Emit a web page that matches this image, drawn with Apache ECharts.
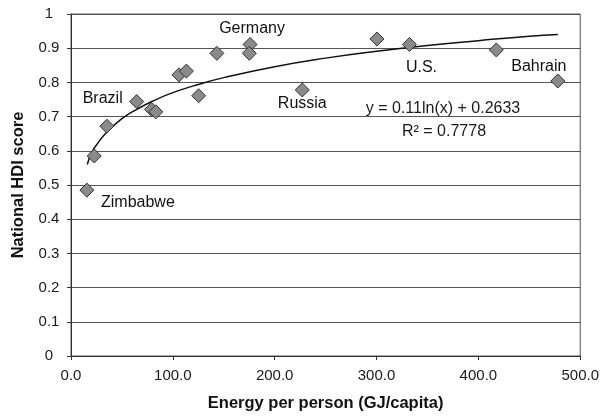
<!DOCTYPE html>
<html>
<head>
<meta charset="utf-8">
<script src="https://cdn.jsdelivr.net/npm/echarts@6/dist/echarts.min.js"></script>
<style>
html,body{margin:0;padding:0;background:#fff;}
#chart{width:602px;height:417px;}
</style>
</head>
<body>
<div id="chart"></div>
<script>
// Data
var energy = [15.6, 22.8, 35.2, 64.5, 79.1, 83.3, 106, 113.3, 125.3, 143.2, 175.8, 175.1, 227.1, 300.4, 332.3, 417.6, 478];
var hdi    = [0.485, 0.585, 0.672, 0.744, 0.721, 0.714, 0.822, 0.833, 0.761, 0.885, 0.911, 0.885, 0.778, 0.927, 0.911, 0.895, 0.804];
var countryNames = ['Zimbabwe', '', '', 'Brazil', '', '', '', '', '', '', 'Germany', '', 'Russia', '', 'U.S.', '', 'Bahrain'];
var trendX = [16, 20, 25, 35, 50, 65, 80, 100, 125, 150, 200, 250, 300, 350, 400, 450, 478];
var trendY = [0.56, 0.593, 0.617, 0.654, 0.694, 0.722, 0.745, 0.770, 0.794, 0.814, 0.846, 0.871, 0.891, 0.908, 0.922, 0.935, 0.940];
var xTicks = [0, 100, 200, 300, 400, 500];
var yTicks = [0, 0.1, 0.2, 0.3, 0.4, 0.5, 0.6, 0.7, 0.8, 0.9, 1];
var equationText = 'y = 0.11ln(x) + 0.2633';
var r2Text = 'R\u00B2 = 0.7778';
var xTitle = 'Energy per person (GJ/capita)';
var yTitle = 'National HDI score';

var labelOffsets = {
  'Zimbabwe': [51, 12],
  'Brazil': [-34, -3],
  'Germany': [2, -16],
  'Russia': [0, 14],
  'U.S.': [12, 23],
  'Bahrain': [-19, -14]
};

var font = 'Liberation Sans, Arial, sans-serif';

var scatterData = energy.map(function (x, i) {
  var item = { value: [x, hdi[i]] };
  var n = countryNames[i];
  if (n) {
    item.label = { show: true, formatter: n, position: 'inside', offset: labelOffsets[n],
      color: '#111', textBorderWidth: 0, textShadowBlur: 0, opacity: 1, fontFamily: font, fontSize: 16 };
  }
  return item;
});
var trendData = trendX.map(function (x, i) { return [x, trendY[i]]; });

var chart = echarts.init(document.getElementById('chart'), null, { renderer: 'canvas' });
chart.setOption({
  animation: false,
  backgroundColor: '#fff',
  grid: { left: 71, right: 19, top: 14, bottom: 61, show: true, borderColor: '#555', borderWidth: 1, containLabel: false },
  xAxis: {
    type: 'value', min: xTicks[0], max: xTicks[xTicks.length - 1], interval: 100,
    name: xTitle, nameLocation: 'middle', nameGap: 39,
    nameTextStyle: { fontFamily: font, fontWeight: 'bold', fontSize: 16.5, color: '#111' },
    axisLine: { show: true, lineStyle: { color: '#333', width: 1 } },
    axisTick: { show: true, length: 4, lineStyle: { color: '#333' } },
    axisLabel: { fontFamily: font, fontSize: 15, color: '#1a1a1a', margin: 12, formatter: function (v) { return v.toFixed(1); } },
    splitLine: { show: false }
  },
  yAxis: {
    type: 'value', min: yTicks[0], max: yTicks[yTicks.length - 1], interval: 0.1,
    name: yTitle, nameLocation: 'middle', nameGap: 44, nameRotate: 90,
    nameTextStyle: { fontFamily: font, fontWeight: 'bold', fontSize: 16.5, color: '#111' },
    axisLine: { show: true, lineStyle: { color: '#333', width: 1 } },
    axisTick: { show: true, length: 4, lineStyle: { color: '#333' } },
    axisLabel: { fontFamily: font, fontSize: 15, color: '#1a1a1a', margin: 22, align: 'center',
      formatter: function (v) { return String(parseFloat(v.toFixed(1))); } },
    splitLine: { show: true, lineStyle: { color: '#555', width: 1 } }
  },
  series: [
    {
      type: 'line', data: trendData, smooth: true, showSymbol: false, symbol: 'none',
      lineStyle: { color: '#111', width: 1.5 }, z: 2, silent: true
    },
    {
      type: 'scatter', data: scatterData, symbol: 'diamond', symbolSize: 14,
      itemStyle: { color: '#8a8a8a', borderColor: '#333', borderWidth: 1, opacity: 1 },
      label: { show: false, fontFamily: font, fontSize: 16, color: '#111' },
      z: 3
    }
  ],
  graphic: [
    { type: 'text', x: 443, y: 101, style: { text: equationText, font: '16px ' + font, fill: '#1a1a1a', textAlign: 'center' } },
    { type: 'text', x: 444, y: 124, style: { text: r2Text, font: '16px ' + font, fill: '#1a1a1a', textAlign: 'center' } }
  ]
});
</script>
</body>
</html>
